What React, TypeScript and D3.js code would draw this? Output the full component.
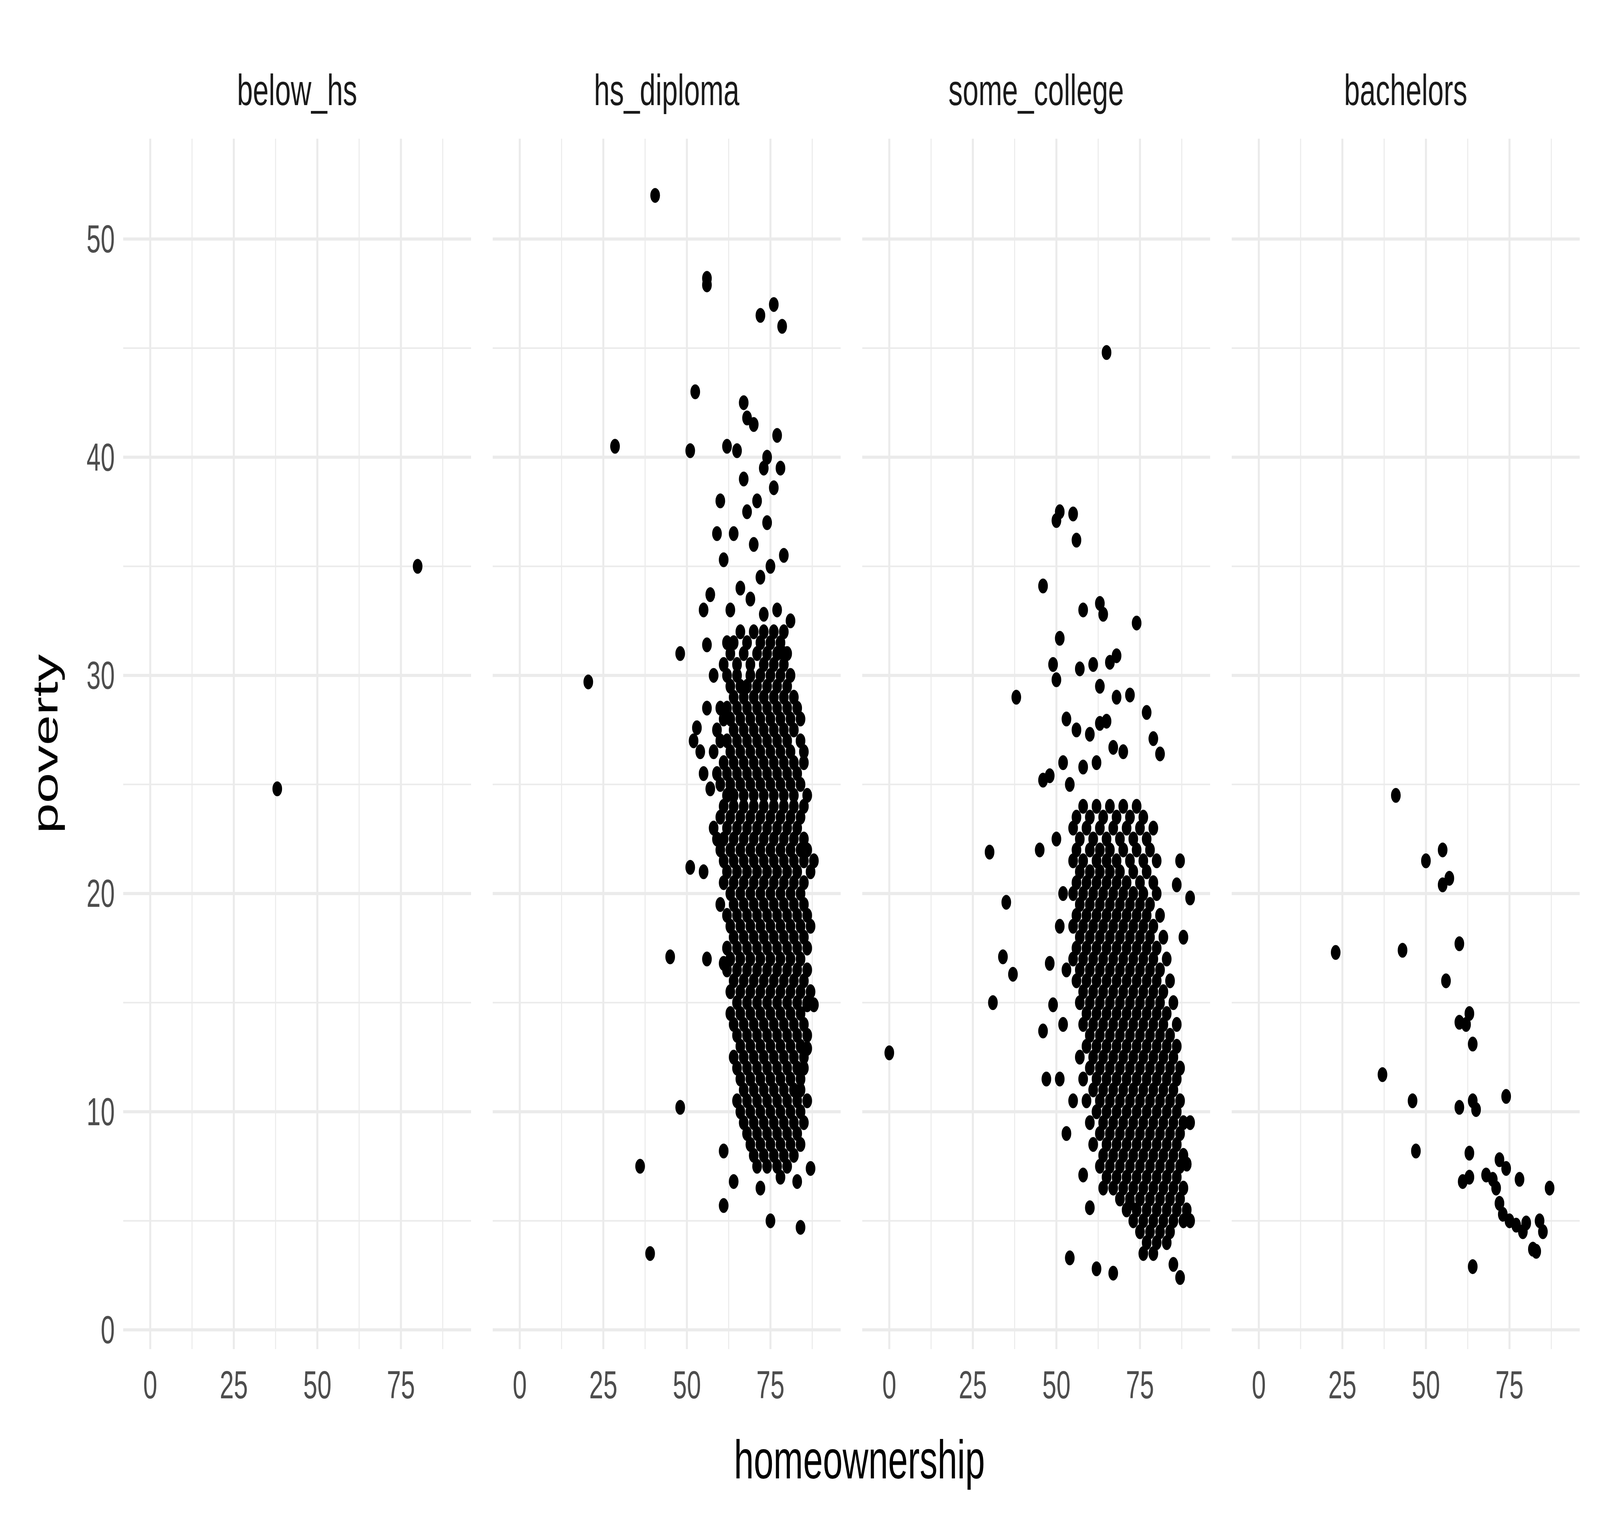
import * as d3 from "d3";

const panels = ["below_hs", "hs_diploma", "some_college", "bachelors"];
const xTicks = [0, 25, 50, 75];
const xMinor = [12.5, 37.5, 62.5, 87.5];
const yTicks = [0, 10, 20, 30, 40, 50];
const yMinor = [5, 15, 25, 35, 45];

const belowHs: [number, number][] = [[38, 24.8], [80, 35]];

const hsOutliers: [number, number][] = [
  [40.5, 52], [56, 48.2], [56, 47.9], [76, 47], [72, 46.5], [78.5, 46], [52.5, 43], [28.5, 40.5],
  [20.5, 29.7], [48, 31], [45, 17.1], [48, 10.2], [36, 7.5], [39, 3.5], [51, 40.3], [62, 40.5],
  [65, 40.3], [67, 42.5], [68, 41.8], [70, 41.5], [77, 41], [78, 39.5], [73, 39.5], [60, 38],
  [59, 36.5], [61, 35.3], [64, 36.5], [70, 36], [74, 37], [79, 35.5], [81, 32.5], [55, 33],
  [57, 33.7], [62, 31.5], [56, 31.4], [58, 30], [53, 27.6], [54, 26.5], [52, 27], [56, 28.5],
  [55, 25.5], [57, 24.8], [58, 23], [51, 21.2], [55, 21], [56, 17], [61, 16.8], [86, 14.9],
  [88, 14.9], [86, 12.9], [87, 7.4], [84, 4.7], [75, 5], [61, 5.7], [64, 6.8], [61, 8.2],
  [72, 6.5], [78, 7], [83, 6.8], [71, 38], [68, 37.5], [72, 34.5], [75, 35], [66, 34],
  [69, 33.5], [77, 33], [63, 33], [73, 32.8], [79, 31], [76, 38.6], [74, 40], [67, 39],
];

const hsRows: [number, number[]][] = [
  [32, [66, 70, 73, 76, 79]], [31.5, [64, 68, 72, 75, 78]], [31, [63, 67, 71, 74, 77, 80]],
  [30.5, [61, 65, 69, 73, 76, 79]], [30, [62, 65, 69, 72, 75, 78, 81]],
  [29.5, [63, 66, 68, 71, 74, 77, 80]], [29, [64, 67, 70, 73, 76, 79, 82]],
  [28.5, [60, 62, 65, 68, 71, 74, 77, 80, 83]], [28, [61, 63, 66, 69, 72, 75, 78, 81, 84]],
  [27.5, [59, 64, 67, 70, 73, 76, 79, 82]], [27, [60, 62, 65, 68, 71, 74, 77, 80, 84]],
  [26.5, [58, 63, 66, 69, 72, 75, 78, 81, 85]], [26, [61, 64, 67, 70, 73, 76, 79, 82, 85]],
  [25.5, [59, 62, 65, 68, 71, 74, 77, 80, 83]], [25, [60, 63, 66, 69, 72, 75, 78, 81, 84]],
  [24.5, [62, 64, 67, 70, 73, 76, 79, 82, 86]], [24, [61, 64, 67, 70, 73, 76, 79, 82, 85]],
  [23.5, [60, 63, 66, 69, 72, 75, 78, 81, 84]], [23, [62, 65, 68, 71, 74, 77, 80, 83]],
  [22.5, [59, 61, 64, 67, 70, 73, 76, 79, 82, 85]], [22, [60, 63, 66, 69, 72, 75, 78, 81, 84, 86]],
  [21.5, [61, 64, 67, 70, 73, 76, 79, 82, 85, 88]], [21, [62, 65, 68, 71, 74, 77, 80, 83, 87]],
  [20.5, [61, 64, 67, 70, 73, 76, 79, 82, 85]], [20, [63, 66, 69, 72, 75, 78, 81, 84]],
  [19.5, [60, 64, 67, 70, 73, 76, 79, 82, 85]], [19, [62, 65, 68, 71, 74, 77, 80, 83, 86]],
  [18.5, [63, 66, 69, 72, 75, 78, 81, 84, 87]], [18, [64, 67, 70, 73, 76, 79, 82, 85]],
  [17.5, [62, 65, 68, 71, 74, 77, 80, 83, 86]], [17, [63, 66, 69, 72, 75, 78, 81, 84]],
  [16.5, [62, 65, 68, 71, 74, 77, 80, 83, 86]], [16, [64, 67, 70, 73, 76, 79, 82, 85]],
  [15.5, [63, 66, 69, 72, 75, 78, 81, 84, 87]], [15, [65, 68, 71, 74, 77, 80, 83, 86]],
  [14.5, [63, 66, 69, 72, 75, 78, 81, 84]], [14, [64, 67, 70, 73, 76, 79, 82, 85]],
  [13.5, [65, 68, 71, 74, 77, 80, 83, 86]], [13, [66, 69, 72, 75, 78, 81, 84]],
  [12.5, [64, 67, 70, 73, 76, 79, 82, 85]], [12, [65, 68, 71, 74, 77, 80, 83, 85]],
  [11.5, [66, 69, 72, 75, 78, 81, 84]], [11, [67, 70, 73, 76, 79, 82, 84]],
  [10.5, [65, 68, 71, 74, 77, 80, 83, 86]], [10, [66, 69, 72, 75, 78, 81, 84]],
  [9.5, [67, 70, 73, 76, 79, 82, 85]], [9, [68, 71, 74, 77, 80, 83]],
  [8.5, [69, 72, 75, 78, 81, 84]], [8, [70, 73, 76, 79, 82]], [7.5, [71, 74, 77, 80]],
];

const scOutliers: [number, number][] = [
  [0, 12.7], [30, 21.9], [31, 15], [35, 19.6], [37, 16.3], [38, 29], [34, 17.1], [45, 22],
  [46, 13.7], [47, 11.5], [48, 16.8], [49, 14.9], [46, 25.2], [48, 25.4], [46, 34.1], [49, 30.5],
  [50, 29.8], [51, 31.7], [50, 37.1], [51, 37.5], [55, 37.4], [56, 36.2], [58, 33], [63, 33.3],
  [64, 32.8], [65, 44.8], [74, 32.4], [66, 30.6], [68, 30.9], [68, 29], [72, 29.1], [77, 28.3],
  [79, 27.1], [81, 26.4], [57, 30.3], [61, 30.5], [53, 28], [56, 27.5], [60, 27.3], [63, 27.8],
  [65, 27.9], [67, 26.7], [70, 26.5], [54, 3.3], [62, 2.8], [67, 2.6], [60, 5.6], [72, 5.8],
  [85, 3], [87, 2.4], [90, 19.8], [87, 21.5], [88, 18], [86, 20.4], [90, 5], [89, 7.6],
  [90, 9.5], [58, 7.1], [64, 6.5], [52, 26], [54, 25], [58, 25.8], [62, 26], [50, 22.5],
  [52, 20], [51, 18.5], [53, 16.5], [52, 14], [51, 11.5], [53, 9], [55, 10.5], [63, 29.5],
];

const scRows: [number, number[]][] = [
  [24, [58, 62, 66, 70, 74]], [23.5, [56, 60, 64, 68, 72, 76]], [23, [55, 59, 63, 67, 71, 75, 79]],
  [22.5, [57, 61, 65, 69, 73, 77]], [22, [56, 60, 63, 66, 70, 74, 78]],
  [21.5, [55, 58, 62, 65, 68, 72, 76, 80]], [21, [57, 60, 63, 66, 69, 73, 77]],
  [20.5, [56, 59, 62, 65, 68, 71, 75, 79]], [20, [55, 58, 61, 64, 67, 70, 73, 76, 80]],
  [19.5, [57, 60, 63, 66, 69, 72, 75, 78]], [19, [56, 59, 62, 65, 68, 71, 74, 77, 81]],
  [18.5, [55, 58, 61, 64, 67, 70, 73, 76, 79]], [18, [57, 60, 63, 66, 69, 72, 75, 78, 82]],
  [17.5, [56, 59, 62, 65, 68, 71, 74, 77, 80]], [17, [55, 58, 61, 64, 67, 70, 73, 76, 79, 83]],
  [16.5, [57, 60, 63, 66, 69, 72, 75, 78, 81]], [16, [56, 59, 62, 65, 68, 71, 74, 77, 80, 84]],
  [15.5, [58, 61, 64, 67, 70, 73, 76, 79, 82]], [15, [57, 60, 63, 66, 69, 72, 75, 78, 81, 85]],
  [14.5, [59, 62, 65, 68, 71, 74, 77, 80, 83]], [14, [58, 61, 64, 67, 70, 73, 76, 79, 82, 86]],
  [13.5, [60, 63, 66, 69, 72, 75, 78, 81, 84]], [13, [59, 62, 65, 68, 71, 74, 77, 80, 83, 86]],
  [12.5, [57, 61, 64, 67, 70, 73, 76, 79, 82, 85]], [12, [60, 63, 66, 69, 72, 75, 78, 81, 84, 87]],
  [11.5, [58, 62, 65, 68, 71, 74, 77, 80, 83, 86]], [11, [61, 64, 67, 70, 73, 76, 79, 82, 85]],
  [10.5, [59, 63, 66, 69, 72, 75, 78, 81, 84, 87]], [10, [62, 65, 68, 71, 74, 77, 80, 83, 86]],
  [9.5, [60, 64, 67, 70, 73, 76, 79, 82, 85, 88]], [9, [63, 66, 69, 72, 75, 78, 81, 84, 87]],
  [8.5, [61, 65, 68, 71, 74, 77, 80, 83, 86]], [8, [64, 67, 70, 73, 76, 79, 82, 85, 88]],
  [7.5, [63, 66, 69, 72, 75, 78, 81, 84, 87]], [7, [65, 68, 71, 74, 77, 80, 83, 86]],
  [6.5, [67, 70, 73, 76, 79, 82, 85, 88]], [6, [69, 72, 75, 78, 81, 84, 87]],
  [5.5, [71, 74, 77, 80, 83, 86, 89]], [5, [73, 76, 79, 82, 85, 88]], [4.5, [75, 78, 81, 84]],
  [4, [77, 80, 83]], [3.5, [76, 79]],
];

const bachelors: [number, number][] = [
  [23, 17.3], [41, 24.5], [43, 17.4], [37, 11.7], [46, 10.5], [47, 8.2], [50, 21.5], [55, 22],
  [55, 20.4], [57, 20.7], [56, 16], [60, 17.7], [60, 14.1], [62, 14], [63, 14.5], [64, 13.1],
  [60, 10.2], [64, 10.5], [65, 10.1], [63, 8.1], [61, 6.8], [63, 7], [64, 2.9], [74, 10.7],
  [68, 7.1], [70, 6.9], [72, 7.8], [74, 7.4], [71, 6.5], [72, 5.8], [73, 5.3], [75, 5],
  [77, 4.8], [78, 6.9], [80, 4.9], [82, 3.7], [83, 3.6], [84, 5], [85, 4.5], [87, 6.5], [79, 4.5],
];

const expand = (rows: [number, number[]][]) =>
  rows.flatMap(([y, xs]) => xs.map((x) => [x, y] as [number, number]));

const panelData: [number, number][][] = [
  belowHs,
  [...hsOutliers, ...expand(hsRows)],
  [...scOutliers, ...expand(scRows)],
  bachelors,
];

const W = 6300;
const H = 3893;
const left0 = 485;
const panelW = 1370;
const gap = 85;
const top = 355;
const bottom = 3453;

const x = d3.scaleLinear([-8.1, 96], [0, panelW]);
const y = d3.scaleLinear([-0.88, 54.6], [bottom, top]);

export default function App() {
  return (
    <svg
      viewBox={`0 0 ${W} ${H}`}
      preserveAspectRatio="none"
      style={{ position: "absolute", left: 0, top: 0, width: "100vw", height: "100vh", display: "block" }}
      fontFamily="Liberation Sans, Arial, sans-serif"
    >
      <rect width={W} height={H} fill="white" />
      {panels.map((name, i) => {
        const ox = left0 + i * (panelW + gap);
        return (
          <g key={name} transform={`translate(${ox},0)`}>
            {yMinor.map((v) => (
              <line key={"ym" + v} x1={0} x2={panelW} y1={y(v)} y2={y(v)} stroke="#ebebeb" strokeWidth={4} />
            ))}
            {xMinor.map((v) => (
              <line key={"xm" + v} x1={x(v)} x2={x(v)} y1={top} y2={bottom} stroke="#ebebeb" strokeWidth={4} />
            ))}
            {yTicks.map((v) => (
              <line key={"y" + v} x1={0} x2={panelW} y1={y(v)} y2={y(v)} stroke="#ebebeb" strokeWidth={8} />
            ))}
            {xTicks.map((v) => (
              <line key={"x" + v} x1={x(v)} x2={x(v)} y1={top} y2={bottom} stroke="#ebebeb" strokeWidth={8} />
            ))}
            {panelData[i].map(([px, py], j) => (
              <circle key={j} cx={x(px)} cy={y(py)} r={19} fill="black" />
            ))}
            <text x={panelW / 2} y={230} textAnchor="middle" dominantBaseline="central" fontSize={112} fill="#1a1a1a">
              {name}
            </text>
            {xTicks.map((v) => (
              <text key={"xl" + v} x={x(v)} y={3545} textAnchor="middle" dominantBaseline="central" fontSize={100} fill="#4d4d4d">
                {v}
              </text>
            ))}
          </g>
        );
      })}
      {yTicks.map((v) => (
        <text key={"yl" + v} x={452} y={y(v)} textAnchor="end" dominantBaseline="central" fontSize={100} fill="#4d4d4d">
          {v}
        </text>
      ))}
      <text x={3384} y={3735} textAnchor="middle" dominantBaseline="central" fontSize={140} fill="black">
        homeownership
      </text>
      <text transform={`translate(178,${(top + bottom) / 2}) rotate(-90)`} textAnchor="middle" dominantBaseline="central" fontSize={140} fill="black">
        poverty
      </text>
    </svg>
  );
}
